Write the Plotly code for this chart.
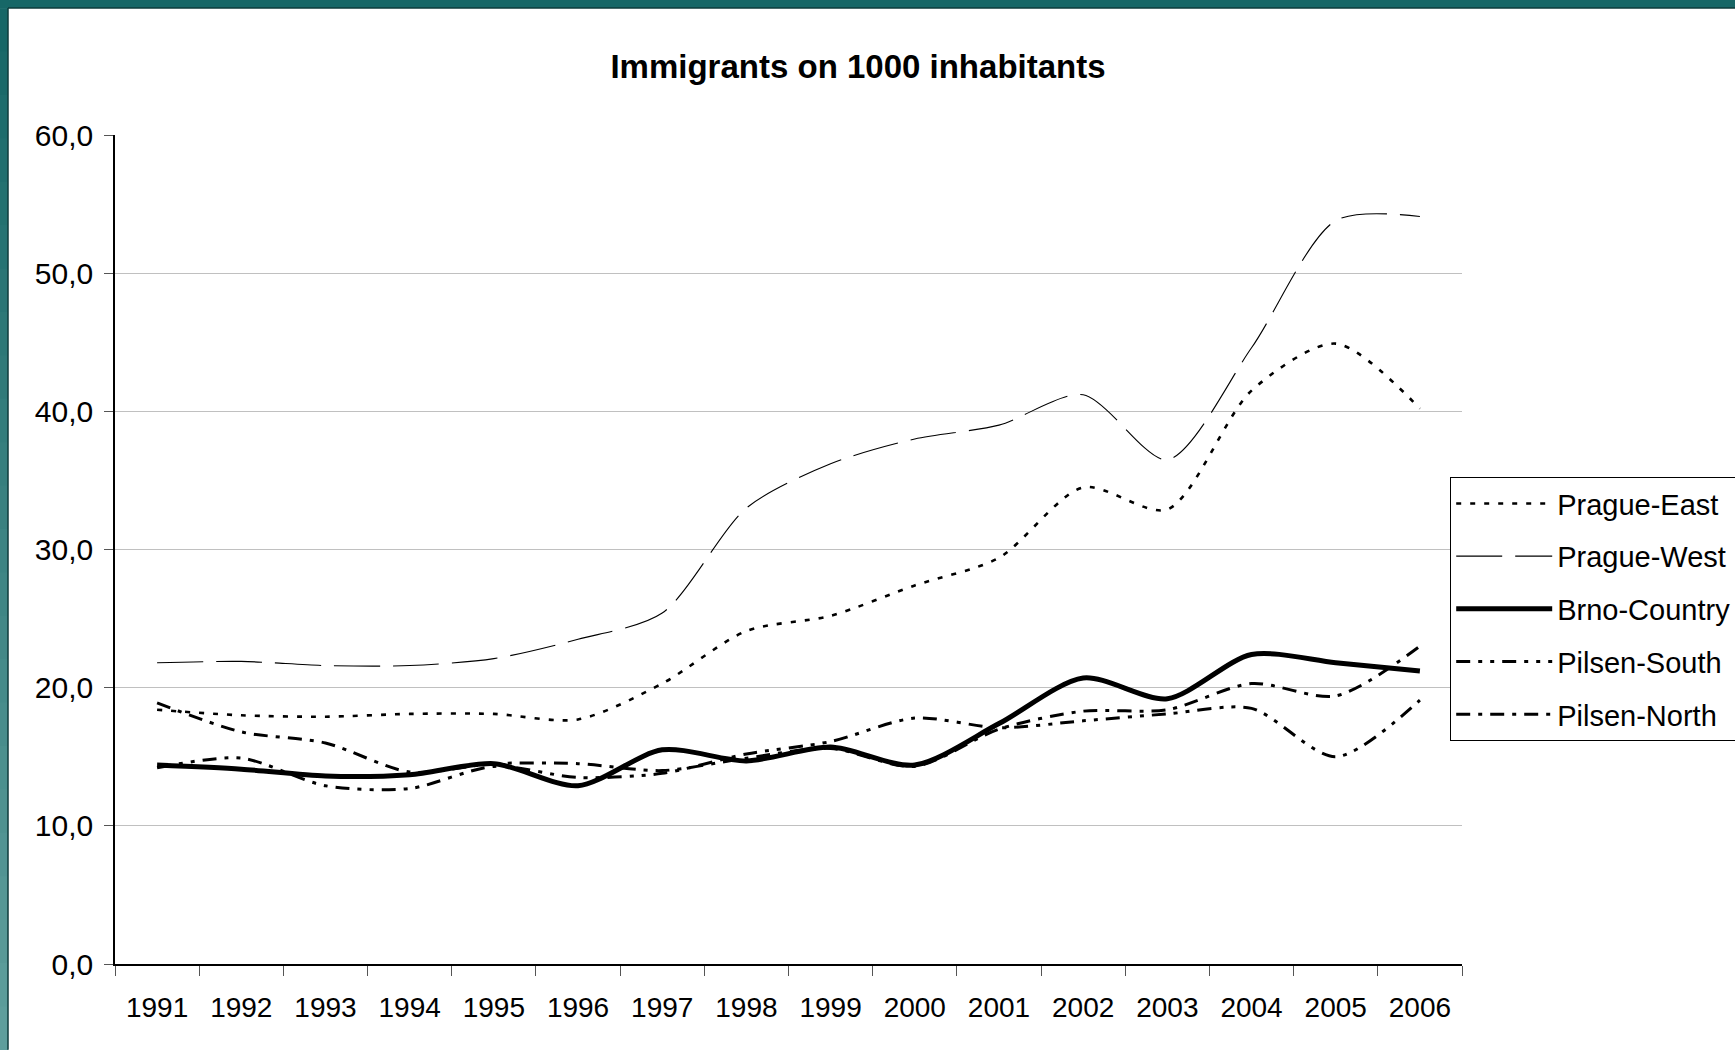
import plotly.graph_objects as go

years = [str(y) for y in range(1991, 2007)]

prague_east = [18.4, 18.0, 17.9, 18.1, 18.1, 17.7, 20.3, 24.1, 25.2, 27.4, 29.4, 34.5, 32.9, 41.5, 44.9, 40.2]
prague_west = [21.8, 21.9, 21.6, 21.6, 22.1, 23.5, 25.4, 33.0, 36.2, 38.0, 39.0, 41.2, 36.5, 44.6, 53.8, 54.1]
brno_country = [14.4, 14.1, 13.6, 13.7, 14.5, 12.9, 15.5, 14.7, 15.7, 14.4, 17.4, 20.7, 19.2, 22.4, 21.8, 21.2]
pilsen_south = [14.2, 14.9, 12.9, 12.7, 14.3, 13.5, 13.8, 15.2, 16.1, 17.8, 17.1, 17.6, 18.1, 18.5, 15.0, 19.1]
pilsen_north = [18.9, 16.8, 16.0, 13.9, 14.5, 14.5, 14.0, 14.9, 15.6, 14.3, 17.0, 18.3, 18.4, 20.3, 19.4, 23.0]

y_ticks = [0, 10, 20, 30, 40, 50, 60]

W, H = 1735, 1050
L, R, T, B = 115, 1462, 135, 964.3
pw, ph = R - L, B - T

def px(x):
    return (x - L) / pw

def py(y):
    return (B - y) / ph

FONT = "Liberation Sans, Arial, sans-serif"

series = [
    ("Prague-East", prague_east, dict(color="black", width=2.6, dash="5px,9px")),
    ("Prague-West", prague_west, dict(color="black", width=1.1, dash="46px,13px")),
    ("Brno-Country", brno_country, dict(color="black", width=5)),
    ("Pilsen-South", pilsen_south, dict(color="black", width=3, dash="14px,8px,4px,8px,4px,8px")),
    ("Pilsen-North", pilsen_north, dict(color="black", width=3, dash="14px,8px,4px,8px")),
]

fig = go.Figure()
for i, (name, vals, line) in enumerate(series):
    fig.add_trace(go.Scatter(
        x=years, y=vals, name=name, mode="lines",
        line=dict(shape="spline", smoothing=0.8, **line),
        legendgroup=f"g{i}",
    ))

shapes = []
TOPB = 8
# teal frame: top band and left band gradient
shapes.append(dict(type="rect", xref="paper", yref="paper",
                   x0=px(0), x1=px(W), y0=py(0), y1=py(TOPB),
                   fillcolor="#176767", line=dict(width=0), layer="below"))
nseg = 24
c0 = (0x17, 0x67, 0x67)
c1 = (0x5e, 0x9e, 0x9c)
for k in range(nseg):
    t = k / (nseg - 1)
    c = tuple(int(round(c0[j] + (c1[j] - c0[j]) * t)) for j in range(3))
    y0p = TOPB + (H - TOPB) * k / nseg
    y1p = TOPB + (H - TOPB) * (k + 1) / nseg + 1
    shapes.append(dict(type="rect", xref="paper", yref="paper",
                       x0=px(0), x1=px(8), y0=py(y0p), y1=py(y1p),
                       fillcolor="rgb(%d,%d,%d)" % c, line=dict(width=0), layer="below"))
# thin dark inner edge
shapes.append(dict(type="line", xref="paper", yref="paper",
                   x0=px(8), x1=px(W), y0=py(TOPB), y1=py(TOPB),
                   line=dict(color="#0e3b3b", width=1.5), layer="below"))
shapes.append(dict(type="line", xref="paper", yref="paper",
                   x0=px(8), x1=px(8), y0=py(TOPB), y1=py(H),
                   line=dict(color="#0e3b3b", width=1.5), layer="below"))

fig.update_layout(
    width=W, height=H,
    margin=dict(l=L, r=W - R, t=T, b=H - B, pad=0, autoexpand=False),
    paper_bgcolor="white", plot_bgcolor="white",
    separators=", ",
    font=dict(family=FONT, size=28, color="black"),
    title=dict(text="<b>Immigrants on 1000 inhabitants</b>",
               font=dict(family=FONT, size=33, color="black"),
               x=858 / W, xref="container", xanchor="center",
               y=1 - 66 / H, yref="container", yanchor="middle"),
    showlegend=True,
    legend=dict(x=px(1450), y=py(477), xanchor="left", yanchor="top",
                bgcolor="white", bordercolor="black", borderwidth=1.2,
                font=dict(family=FONT, size=29, color="black"),
                itemwidth=96, tracegroupgap=12, traceorder="grouped"),
    shapes=shapes,
)

fig.update_xaxes(
    type="category", tickson="boundaries", range=[-0.5, 15.5],
    showline=True, linecolor="black", linewidth=1.5,
    ticks="outside", ticklen=10, tickcolor="#555555", tickwidth=1.3,
    showgrid=False, ticklabelstandoff=18,
    tickfont=dict(family=FONT, size=28, color="black"),
)
fig.update_yaxes(
    range=[0, 60], tickvals=y_ticks, tickformat=".1f",
    showline=True, linecolor="black", linewidth=1.5,
    ticks="outside", ticklen=9, tickcolor="#555555", tickwidth=1.3,
    showgrid=True, gridcolor="#c0c0c0", gridwidth=1.2,
    zeroline=False, ticklabelstandoff=5,
    tickfont=dict(family=FONT, size=30, color="black"),
)

fig.write_html(
    "out.html",
    config={"displayModeBar": False},
    post_script="document.body.style.margin='0';document.body.style.overflow='hidden';",
)
